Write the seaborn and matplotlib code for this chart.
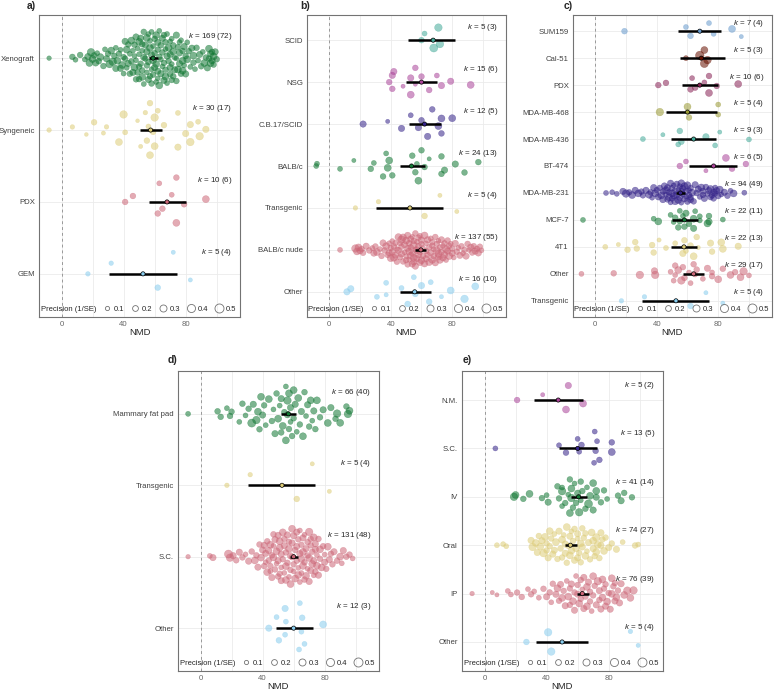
import numpy as np
import pandas as pd
import seaborn as sns
import matplotlib.pyplot as plt
from matplotlib.lines import Line2D

# ---------------- data ----------------
# shared groups (same studies appear in several panels)
tg_nmd = [17, 32, 62, 72, 83]
tg_prec = [.12, .12, .2, .1, .1]
pdx_nmd = [41, 46, 62, 63, 65, 71, 74, 74, 79, 93]
pdx_prec = [.2, .2, .2, .15, .2, .15, .3, .2, .2, .3]

# a) model type
xeno_nmd = [-8, 7, 9, 12, 15, 17, 18, 19, 20, 21,
            22, 23, 24, 25, 27, 28, 29, 30, 31, 32,
            33, 34, 35, 35, 36, 37, 38, 38, 39, 40,
            40, 41, 41, 42, 42, 43, 43, 44, 44, 45,
            45, 46, 46, 47, 47, 47, 48, 48, 49, 49,
            50, 50, 50, 51, 51, 52, 52, 52, 53, 53,
            54, 54, 55, 55, 55, 56, 56, 56, 57, 57,
            58, 58, 58, 59, 59, 60, 60, 60, 61, 61,
            62, 62, 62, 63, 63, 64, 64, 65, 65, 65,
            66, 66, 67, 67, 67, 68, 68, 69, 69, 70,
            70, 70, 71, 71, 72, 72, 73, 73, 74, 74,
            75, 75, 76, 76, 77, 77, 78, 78, 79, 79,
            80, 80, 81, 81, 82, 83, 84, 85, 85, 86,
            87, 88, 89, 90, 91, 92, 93, 94, 95, 95,
            96, 96, 97, 97, 98, 98, 99, 100, 48, 50,
            53, 55, 57, 59, 61, 63, 64, 66, 68, 70,
            72, 74, 76, 78, 52, 58, 62, 67, 71]
xeno_prec = [.12, .2, .15, .2, .15, .25, .3, .35, .3, .2,
             .25, .15, .2, .3, .2, .15, .25, .2, .35, .3,
             .35, .2, .25, .15, .3, .2, .25, .15, .3, .2,
             .15, .25, .2, .3, .15, .2, .25, .15, .2, .3,
             .2, .15, .25, .2, .3, .15, .2, .25, .15, .2,
             .3, .2, .15, .25, .2, .15, .3, .2, .25, .15,
             .2, .25, .15, .3, .2, .25, .15, .2, .3, .2,
             .15, .25, .2, .3, .15, .2, .25, .2, .15, .3,
             .2, .15, .25, .2, .3, .15, .2, .25, .15, .2,
             .25, .2, .15, .3, .2, .25, .15, .2, .3, .2,
             .15, .25, .2, .15, .3, .2, .25, .15, .2, .25,
             .2, .3, .15, .25, .2, .15, .3, .2, .25, .15,
             .2, .25, .15, .3, .2, .15, .25, .2, .3, .15,
             .2, .15, .25, .2, .15, .3, .2, .25, .3, .2,
             .25, .3, .2, .25, .3, .2, .25, .2, .15, .2,
             .2, .25, .15, .2, .3, .15, .25, .2, .15, .25,
             .2, .15, .25, .3, .2, .15, .25, .2, .15]
syn_nmd = [-8, 7, 16, 21, 27, 29, 37, 40, 41, 49,
           51, 54, 55, 56, 57, 57, 59, 60, 60, 62,
           65, 66, 75, 75, 80, 83, 83, 88, 89, 93]
syn_prec = [.12, .12, .08, .2, .1, .12, .3, .35, .15, .08,
            .1, .12, .2, .15, .3, .2, .2, .35, .3, .15,
            .08, .2, .25, .15, .25, .25, .35, .15, .35, .25]

a_groups = ["Xenograft", "Syngeneic", "PDX", "GEM"]
a_est = [59, 57.4, 68, 52.5]
a_lo = [56.3, 50.3, 56.3, 30.5]
a_hi = [62.2, 64.9, 80, 74.4]
a_k = ["169 (72)", "30 (17)", "10 (6)", "5 (4)"]

# b) mouse strain
scid_nmd = [60, 62, 68, 71, 72]
scid_prec = [.2, .15, .4, .35, .35]
nsg_nmd = [39, 41, 41, 42, 48, 53, 53, 56, 56, 60, 65, 70, 73, 79, 92]
nsg_prec = [.2, .25, .2, .25, .1, .25, .3, .2, .1, .2, .2, .15, .25, .25, .3]
cb17_nmd = [22, 38, 47, 53, 58, 60, 64, 67, 71, 73, 73, 80]
cb17_prec = [.25, .1, .25, .15, .25, .2, .25, .2, .3, .3, .2, .3]
balbc_nmd = [-8.5, -8, 7, 16, 27, 29, 35, 37, 38, 39,
             41, 54, 56, 57, 58, 60, 62, 65, 73, 73,
             75, 82, 88, 97]
balbc_prec = [.15, .15, .15, .1, .2, .15, .2, .15, .3, .3,
              .2, .2, .2, .15, .3, .2, .2, .1, .2, .2,
              .25, .25, .2, .2]
nude_nmd = [7, 17, 18, 19, 20, 21, 22, 24, 26, 28,
            29, 30, 31, 33, 34, 35, 36, 37, 38, 39,
            39, 40, 40, 41, 41, 42, 42, 43, 43, 44,
            44, 45, 45, 46, 46, 47, 47, 48, 48, 49,
            49, 50, 50, 50, 51, 51, 52, 52, 52, 53,
            53, 53, 54, 54, 54, 55, 55, 55, 56, 56,
            56, 57, 57, 57, 58, 58, 58, 59, 59, 60,
            60, 60, 61, 61, 62, 62, 63, 63, 64, 64,
            65, 65, 66, 66, 67, 67, 68, 68, 69, 69,
            70, 70, 71, 71, 72, 72, 73, 73, 74, 74,
            75, 75, 76, 76, 77, 77, 78, 78, 79, 80,
            80, 81, 82, 83, 84, 85, 86, 87, 88, 89,
            90, 91, 92, 93, 94, 95, 96, 97, 98, 99,
            47, 51, 55, 59, 63, 67, 71]
nude_prec = [.15, .35, .3, .3, .25, .2, .2, .25, .2, .15,
             .25, .2, .3, .15, .2, .25, .2, .3, .2, .15,
             .25, .2, .3, .15, .25, .2, .3, .2, .25, .15,
             .2, .3, .25, .15, .2, .35, .25, .2, .3, .15,
             .25, .2, .3, .15, .25, .2, .3, .2, .15, .25,
             .3, .2, .25, .15, .2, .3, .25, .2, .15, .25,
             .2, .3, .15, .25, .2, .3, .2, .25, .15, .2,
             .3, .25, .2, .15, .25, .3, .2, .15, .25, .2,
             .2, .3, .15, .25, .2, .3, .2, .15, .25, .2,
             .3, .2, .25, .15, .2, .3, .25, .2, .15, .25,
             .2, .25, .3, .15, .2, .25, .2, .3, .15, .25,
             .2, .15, .25, .2, .15, .25, .2, .15, .2, .25,
             .2, .15, .25, .2, .2, .25, .2, .25, .2, .15,
             .2, .25, .3, .2, .25, .2, .3]
bother_nmd = [11.5, 14, 31, 37, 37, 47, 51, 55, 56, 60, 65, 66, 73, 79, 88, 95]
bother_prec = [.25, .25, .15, .15, .1, .15, .2, .15, .2, .25, .2, .15, .1, .3, .35, .3]

b_groups = ["SCID", "NSG", "C.B.17/SCID", "BALB/c", "Transgenic", "BALB/c nude", "Other"]
b_est = [67.6, 60, 62, 53.5, 52.5, 59.6, 55.6]
b_lo = [51, 50, 52, 46, 30.5, 56, 46]
b_hi = [82, 70, 73, 62, 74, 63, 66]
b_k = ["5 (3)", "15 (6)", "12 (5)", "24 (13)", "5 (4)", "137 (55)", "16 (10)"]

# c) cell line
sum_nmd = [19, 59, 62, 74, 77, 89, 95]
sum_prec = [.2, .15, .2, .15, .15, .3, .1]
cal_nmd = [59, 68, 71, 71, 73]
cal_prec = [.15, .45, .4, .3, .35]
m468_nmd = [42, 60, 61, 80, 80]
m468_prec = [.35, .3, .2, .15, .15]
m436_nmd = [31, 44, 54, 55, 56, 72, 78, 81, 100]
m436_prec = [.15, .1, .15, .2, .2, .25, .15, .1, .15]
bt_nmd = [55, 59, 72, 85, 89, 98]
bt_prec = [.2, .15, .1, .3, .2, .2]
m231_nmd = [7, 11, 14, 18, 20, 22, 24, 26, 28, 30,
            31, 33, 35, 36, 37, 38, 39, 40, 41, 42,
            43, 44, 45, 46, 46, 47, 47, 48, 48, 49,
            49, 50, 50, 51, 51, 52, 52, 53, 53, 54,
            54, 55, 55, 56, 56, 57, 57, 58, 58, 59,
            59, 60, 60, 61, 61, 62, 62, 63, 64, 65,
            66, 67, 68, 69, 70, 71, 72, 73, 74, 75,
            75, 76, 77, 78, 78, 79, 80, 81, 82, 84,
            86, 88, 90, 97,
            44, 50, 56, 62, 70, 77]
m231_prec = [.15, .15, .15, .25, .35, .2, .3, .25, .3, .2,
             .2, .25, .3, .2, .15, .25, .3, .2, .25, .2,
             .3, .2, .25, .15, .3, .2, .25, .3, .2, .15,
             .25, .3, .2, .15, .25, .2, .3, .2, .25, .15,
             .3, .2, .25, .3, .15, .2, .25, .2, .3, .15,
             .2, .25, .3, .2, .15, .25, .2, .3, .2, .25,
             .2, .25, .15, .3, .2, .25, .2, .15, .25, .2,
             .3, .2, .25, .15, .2, .25, .2, .3, .15, .25,
             .2, .15, .3, .15,
             .25, .2, .3, .2, .25, .2]
mcf_nmd = [-8, 38, 41, 49, 51, 52, 54, 55, 55, 57,
           58, 59, 61, 64, 64, 65, 68, 68, 73, 74,
           74, 83]
mcf_prec = [.15, .15, .3, .15, .15, .2, .2, .15, .2, .15,
            .2, .25, .2, .3, .25, .15, .15, .15, .3, .2,
            .25, .15]
t41_nmd = [6.5, 15, 21, 26, 27, 37, 38, 41.5, 46, 52,
           57, 58, 59, 62, 64, 66, 67, 75, 76, 82,
           83, 93]
t41_prec = [.15, .1, .2, .2, .2, .2, .2, .1, .15, .15,
            .25, .2, .15, .2, .3, .2, .1, .25, .2, .3,
            .3, .25]
cother_nmd = [-9, 12, 29, 38.5, 39, 49, 51, 52, 52, 54,
              56, 57, 58, 61, 62, 64, 65, 66, 70, 73,
              76, 76, 80, 83, 88, 91, 94.5, 96.5, 100]
cother_prec = [.15, .2, .35, .25, .35, .15, .15, .2, .15, .3,
               .35, .2, .2, .15, .15, .2, .15, .2, .15, .25,
               .2, .15, .3, .2, .3, .2, .3, .35, .15]

c_groups = ["SUM159", "Cal-51", "PDX", "MDA-MB-468", "MDA-MB-436", "BT-474",
            "MDA-MB-231", "MCF-7", "4T1", "Other", "Transgenic"]
c_est = [68, 69, 68, 60, 64, 77, 55.4, 58, 57.7, 64, 52.5]
c_lo = [54, 55, 56.6, 46, 49.5, 61, 52.6, 50, 49.5, 57, 30.5]
c_hi = [82, 84.7, 80, 79, 78.7, 92, 58.7, 67, 66, 70.7, 74]
c_k = ["7 (4)", "5 (3)", "10 (6)", "5 (4)", "9 (3)", "6 (5)", "94 (49)",
       "22 (11)", "22 (13)", "29 (17)", "5 (4)"]

# d) implantation site
mfp_nmd = [-8, 11, 13, 17, 19, 20, 25, 27, 29, 31,
           33, 34, 36, 37, 38, 39, 40, 41, 42, 44,
           46, 47, 48, 49, 50, 51, 52, 52, 53, 54,
           55, 55, 56, 56, 57, 57, 58, 58, 59, 60,
           60, 61, 62, 63, 64, 65, 66, 67, 68, 69,
           70, 71, 72, 73, 74, 75, 77, 79, 82, 84,
           87, 88, 90, 94, 95, 96]
mfp_prec = [.15, .2, .2, .15, .2, .2, .15, .2, .15, .2,
            .4, .25, .35, .3, .2, .3, .25, .2, .15, .3,
            .2, .15, .25, .2, .3, .15, .2, .25, .3, .2,
            .3, .15, .25, .35, .2, .3, .15, .25, .2, .3,
            .2, .25, .15, .3, .2, .25, .3, .2, .15, .25,
            .2, .3, .15, .25, .2, .3, .2, .25, .3, .25,
            .2, .35, .3, .2, .35, .3]
dsc_nmd = [-8, 6, 8, 18, 19, 21, 23, 25, 27, 29,
           31, 33, 35, 36, 37, 38, 39, 40, 41, 42,
           42, 43, 44, 44, 45, 45, 46, 46, 47, 47,
           48, 48, 49, 49, 50, 50, 51, 51, 52, 52,
           53, 53, 54, 54, 55, 55, 56, 56, 57, 57,
           58, 58, 59, 59, 60, 60, 61, 61, 62, 62,
           63, 63, 64, 64, 65, 65, 66, 66, 67, 67,
           68, 68, 69, 69, 70, 70, 71, 71, 72, 72,
           73, 73, 74, 74, 75, 75, 76, 77, 78, 79,
           80, 81, 82, 83, 84, 86, 88, 90, 92, 94,
           96, 98, 50, 55, 60, 65, 70, 57, 62, 67,
           45, 52, 58, 64, 69, 74, 77, 85, 91,
           41, 43, 47, 51, 54, 59, 63, 66, 71, 73, 76, 80]
dsc_prec = [.12, .15, .25, .4, .35, .25, .2, .25, .2, .15,
            .25, .2, .3, .2, .25, .2, .3, .25, .2, .15,
            .25, .3, .2, .25, .15, .3, .2, .25, .2, .3,
            .2, .25, .15, .3, .2, .25, .3, .2, .15, .25,
            .3, .2, .25, .15, .3, .2, .25, .2, .3, .15,
            .2, .25, .3, .2, .15, .25, .2, .3, .25, .2,
            .3, .2, .25, .15, .3, .2, .25, .3, .2, .15,
            .25, .3, .2, .15, .25, .35, .2, .25, .3, .2,
            .15, .3, .25, .2, .3, .15, .25, .2, .3, .2,
            .25, .2, .3, .25, .2, .25, .2, .3, .25, .2,
            .2, .15, .25, .3, .2, .15, .3, .2, .25, .2,
            .2, .25, .3, .15, .2, .25, .3, .2, .15,
            .25, .2, .15, .3, .2, .25, .15, .3, .2, .25, .2, .15]
dother_nmd = [44, 49, 50.5, 54.5, 54.5, 55, 63.5, 64, 65, 65.5, 67, 79]
dother_prec = [.25, .15, .2, .25, .15, .15, .15, .15, .15, .2, .15, .3]

d_groups = ["Mammary fat pad", "Transgenic", "S.C.", "Other"]
d_est = [56.6, 52.5, 60, 60]
d_lo = [51.7, 30.5, 57.4, 48.5]
d_hi = [61.3, 74, 62.5, 72.3]
d_k = ["66 (40)", "5 (4)", "131 (48)", "12 (3)"]

# e) route of administration
nm_nmd = [21, 37.5, 52.5, 54, 63.5]
nm_prec = [.2, .1, .3, .25, .3]
esc_nmd = [7, 48, 52.5, 60, 61, 62.5, 70.6, 71, 71.6, 72.5, 74, 82, 82]
esc_prec = [.15, .15, .2, .15, .15, .2, .15, .15, .2, .15, .2, .2, .3]
iv_nmd = [19, 20, 25, 29, 37, 40, 41, 47, 48, 50,
          50, 50, 52, 54, 55, 55, 56, 56, 57, 58,
          59, 61, 62, 62, 63, 65, 66, 67, 68, 70,
          70, 72, 72, 75, 77, 79, 86, 88, 90, 95,
          60]
iv_prec = [.35, .3, .2, .3, .2, .15, .25, .2, .2, .35,
           .15, .15, .2, .15, .3, .2, .35, .3, .2, .15,
           .2, .35, .2, .15, .2, .2, .15, .4, .3, .25,
           .3, .25, .3, .2, .2, .15, .2, .25, .2, .2,
           .25]
oral_nmd = [8, 12, 14, 30, 31, 33, 34, 35, 36, 37,
            38, 39, 40, 41, 42, 43, 44, 45, 46, 47,
            48, 49, 50, 51, 52, 53, 53, 54, 55, 56,
            56, 57, 58, 58, 59, 60, 60, 61, 62, 63,
            63, 64, 65, 66, 67, 68, 69, 70, 71, 72,
            73, 74, 75, 76, 77, 78, 80, 82, 85, 89,
            97, 99, 40, 45, 50, 55, 60, 65, 70, 75,
            42, 52, 62, 72]
oral_prec = [.15, .15, .15, .25, .35, .3, .25, .2, .3, .25,
             .35, .3, .2, .25, .3, .2, .25, .15, .3, .2,
             .25, .2, .3, .15, .25, .2, .3, .2, .25, .15,
             .3, .2, .25, .2, .3, .15, .25, .2, .3, .2,
             .25, .2, .3, .15, .25, .2, .3, .25, .2, .35,
             .3, .2, .25, .2, .3, .2, .25, .2, .25, .15,
             .2, .15, .2, .25, .2, .3, .25, .2, .3, .25,
             .2, .25, .2, .3]
ip_nmd = [-8, 5, 8, 15, 17, 21, 24, 28, 30, 32,
          35, 38, 40, 42, 43, 44, 46, 47, 48, 49,
          50, 51, 52, 53, 54, 55, 56, 57, 58, 59,
          60, 61, 62, 63, 64, 65, 66, 67, 68, 69,
          70, 71, 72, 73, 74, 75, 76, 77, 78, 79,
          80, 81, 82, 83, 84, 85, 86, 88, 90, 92,
          94, 96, 55, 58, 62, 66, 70, 74, 78, 82,
          60, 64, 68, 76, 84, 87]
ip_prec = [.12, .1, .1, .15, .15, .2, .2, .15, .2, .15,
           .15, .2, .25, .2, .15, .2, .25, .3, .2, .25,
           .3, .2, .25, .15, .3, .2, .25, .3, .2, .15,
           .25, .3, .2, .15, .25, .2, .3, .25, .2, .15,
           .3, .2, .25, .35, .2, .25, .3, .2, .25, .3,
           .2, .25, .3, .2, .25, .3, .2, .25, .3, .35,
           .3, .35, .2, .25, .2, .3, .2, .25, .2, .3,
           .2, .25, .2, .3, .2, .25]
eother_nmd = [27, 41, 43, 94, 99]
eother_prec = [.2, .35, .35, .12, .1]

e_groups = ["N.M.", "S.C.", "IV", "Oral", "IP", "Other"]
e_est = [47.5, 60, 60.6, 55.3, 63, 50]
e_lo = [32, 48, 56, 52, 59.5, 33]
e_hi = [63.5, 72.5, 66, 59.5, 67.6, 67]
e_k = ["5 (2)", "13 (5)", "41 (14)", "74 (27)", "76 (39)", "5 (4)"]

# Tol muted colours
ROSE, INDIGO, SAND, GREEN, CYAN = "#CC6677", "#332288", "#DDCC77", "#117733", "#88CCEE"
WINE, TEAL, OLIVE, PURPLE, BROWN, BLUE = "#882255", "#44AA99", "#999933", "#AA4499", "#661100", "#6699CC"

# ---------------- helpers ----------------
def vdc(n):
    # van der Corput sequence, base 2 (as in ggbeeswarm quasirandom)
    out = []
    for i in range(1, n + 1):
        v, denom, k = 0.0, 1.0, i
        while k:
            denom *= 2
            k, r = divmod(k, 2)
            v += r / denom
        out.append(v)
    return np.array(out)


def quasi_offsets(x, width=0.4):
    x = np.asarray(x, float)
    n = len(x)
    sd = x.std(ddof=1)
    iqr = np.subtract(*np.percentile(x, [75, 25]))
    spread = min(sd, iqr / 1.34) if iqr > 0 else sd
    bw = 0.9 * spread * n ** -0.2
    dens = np.exp(-0.5 * ((x[:, None] - x[None, :]) / bw) ** 2).sum(axis=1)
    dens = dens / dens.max()
    order = np.argsort(x, kind="stable")
    rank = np.empty(n, int)
    rank[order] = np.arange(n)
    return (vdc(n)[rank] - 0.5) * 2 * width * dens


SMIN, SMAX = 1, 42


def orchard(ax, groups, nmd, prec, est, lo, hi, klab, colors):
    rows = []
    for i, g in enumerate(groups):
        if len(nmd[i]) != len(prec[i]):
            raise ValueError(f"{g}: {len(nmd[i])} vs {len(prec[i])}")
        off = quasi_offsets(nmd[i])
        for v, p, o in zip(nmd[i], prec[i], off):
            rows.append((g, v, p, i + o))
    df = pd.DataFrame(rows, columns=["group", "NMD", "prec", "ypos"])
    n = len(groups)
    pal = dict(zip(groups, colors))

    ax.axvline(0, color="0.6", lw=0.7, ls=(0, (3, 3)), zorder=1)
    sns.scatterplot(data=df, x="NMD", y="ypos", hue="group", hue_order=groups,
                    palette=pal, size="prec", sizes=(SMIN, SMAX), size_norm=(0, 0.5),
                    alpha=0.55, edgecolor="face", linewidth=0.3, legend=False,
                    ax=ax, zorder=2)
    ax.hlines(range(n), lo, hi, color="black", lw=1.8, zorder=3)
    ax.scatter(est, range(n), s=9, c=colors, edgecolors="black", linewidths=0.5, zorder=4)
    for i in range(n):
        ax.text(110, i - 0.3, r"$k$ = " + klab[i], ha="right", va="center",
                fontsize=5.8, color="0.15", zorder=5)

    ax.set_xlim(-14.5, 115)
    ax.set_ylim(n - 1 + 0.6, -0.6)
    ax.set_yticks(range(n))
    ax.set_yticklabels(groups)
    ax.set_xticks([0, 40, 80])
    ax.set_xticks([20, 60, 100], minor=True)
    ax.tick_params(which="minor", length=0)
    ax.tick_params(which="major", length=2, width=0.6, color="0.3",
                   labelsize=5.6, labelcolor="0.25", pad=1)
    ax.tick_params(axis="x", labelcolor="0.4")
    ax.grid(which="both", axis="x", color="#EBEBEB", lw=0.6)
    ax.grid(which="major", axis="y", color="#EBEBEB", lw=0.6)
    ax.set_axisbelow(True)
    ax.set_xlabel("NMD", fontsize=6.8, color="0.15", va="center")
    hpx = ax.get_position().height * H
    ax.xaxis.set_label_coords(0.5, -15.5 / hpx)
    ax.set_ylabel("")
    for s in ax.spines.values():
        s.set_color("0.45")
        s.set_linewidth(0.8)

    handles = [Line2D([], [], ls="none")]
    for p in [.1, .2, .3, .4, .5]:
        ms = np.sqrt(SMIN + (SMAX - SMIN) * p / 0.5)
        handles.append(Line2D([], [], ls="none", marker="o", markerfacecolor="none",
                              markeredgecolor="0.45", markeredgewidth=0.6, markersize=ms))
    labels = ["Precision (1/SE)", "0.1", "0.2", "0.3", "0.4", "0.5"]
    ax.legend(handles, labels, loc="lower center", ncol=6, frameon=False, fontsize=5.5,
              handlelength=0.9, handletextpad=0.45, columnspacing=0.95,
              borderaxespad=0.15, bbox_to_anchor=(0.47, 0.0))


# ---------------- figure ----------------
sns.set_style("white")
plt.rcParams["font.family"] = ["Liberation Sans", "DejaVu Sans"]
plt.rcParams["mathtext.fontset"] = "custom"
plt.rcParams["mathtext.it"] = "Liberation Sans:italic"
plt.rcParams["mathtext.rm"] = "Liberation Sans"

W, H = 776, 693
fig = plt.figure(figsize=(W / 100, H / 100), dpi=100)


def box(l, t, r, b):
    return [l / W, 1 - b / H, (r - l) / W, (b - t) / H]


ax_a = fig.add_axes(box(39, 15, 240, 317))
ax_b = fig.add_axes(box(307, 15, 506, 317))
ax_c = fig.add_axes(box(573, 15, 772, 317))
ax_d = fig.add_axes(box(178, 371, 379, 671))
ax_e = fig.add_axes(box(462, 371, 663, 671))

orchard(ax_a, a_groups, [xeno_nmd, syn_nmd, pdx_nmd, tg_nmd],
        [xeno_prec, syn_prec, pdx_prec, tg_prec], a_est, a_lo, a_hi, a_k,
        [GREEN, SAND, ROSE, CYAN])
orchard(ax_b, b_groups, [scid_nmd, nsg_nmd, cb17_nmd, balbc_nmd, tg_nmd, nude_nmd, bother_nmd],
        [scid_prec, nsg_prec, cb17_prec, balbc_prec, tg_prec, nude_prec, bother_prec],
        b_est, b_lo, b_hi, b_k, [TEAL, PURPLE, INDIGO, GREEN, SAND, ROSE, CYAN])
orchard(ax_c, c_groups,
        [sum_nmd, cal_nmd, pdx_nmd, m468_nmd, m436_nmd, bt_nmd, m231_nmd, mcf_nmd, t41_nmd, cother_nmd, tg_nmd],
        [sum_prec, cal_prec, pdx_prec, m468_prec, m436_prec, bt_prec, m231_prec, mcf_prec, t41_prec, cother_prec, tg_prec],
        c_est, c_lo, c_hi, c_k,
        [BLUE, BROWN, WINE, OLIVE, TEAL, PURPLE, INDIGO, GREEN, SAND, ROSE, CYAN])
orchard(ax_d, d_groups, [mfp_nmd, tg_nmd, dsc_nmd, dother_nmd],
        [mfp_prec, tg_prec, dsc_prec, dother_prec], d_est, d_lo, d_hi, d_k,
        [GREEN, SAND, ROSE, CYAN])
orchard(ax_e, e_groups, [nm_nmd, esc_nmd, iv_nmd, oral_nmd, ip_nmd, eother_nmd],
        [nm_prec, esc_prec, iv_prec, oral_prec, ip_prec, eother_prec],
        e_est, e_lo, e_hi, e_k, [PURPLE, INDIGO, GREEN, SAND, ROSE, CYAN])

for tag, x, y in [("a)", 27, 6), ("b)", 300, 6), ("c)", 564, 6), ("d)", 168, 360), ("e)", 463, 360)]:
    fig.text(x / W, 1 - y / H, tag, fontsize=7.5, fontweight="bold", ha="left", va="center")

fig.savefig("out.png", dpi=100)
